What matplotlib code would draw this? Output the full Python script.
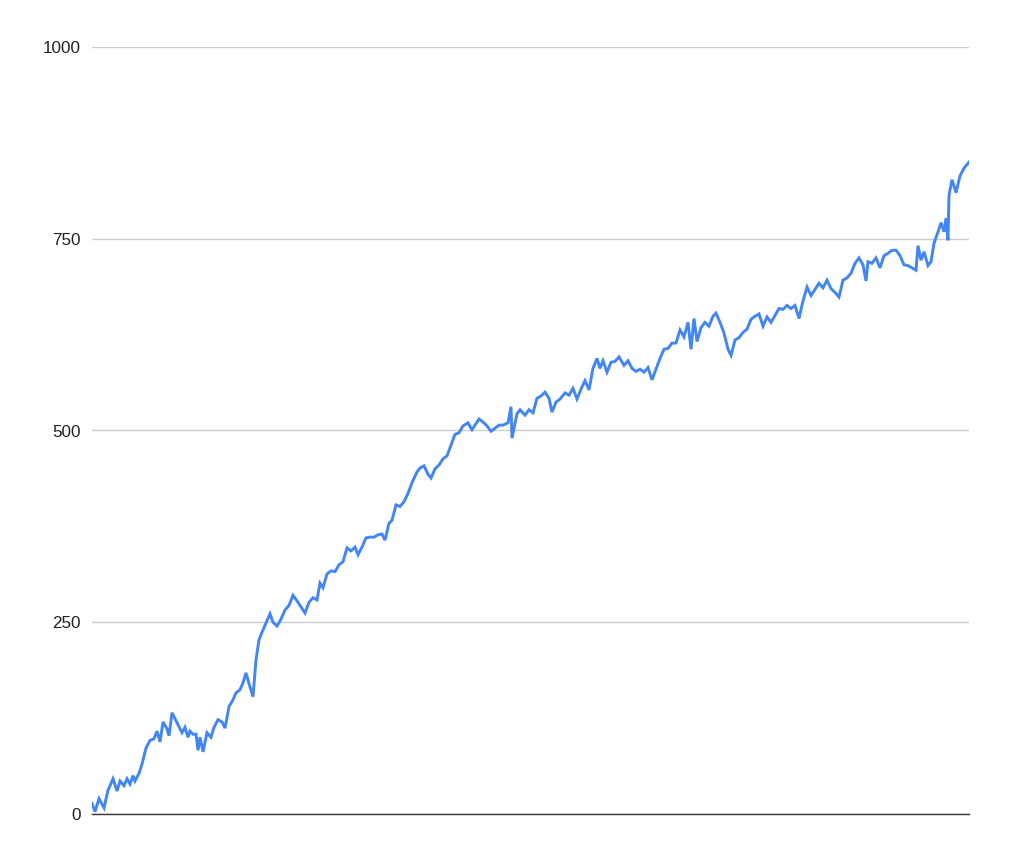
import matplotlib
matplotlib.use("Agg")
import matplotlib.pyplot as plt

# step index (horizontal position in arbitrary units) and series values
steps = [0, 3, 7, 12, 16, 21, 25, 28, 32, 35, 38, 41, 43, 47, 50, 54, 58, 62, 65, 68, 71, 75, 77, 80,
         85, 90, 93, 96, 98, 101, 104, 106, 108, 111, 115, 119, 122, 126, 130, 133, 137, 141, 144, 148,
         151, 154, 157, 161, 164, 167, 170, 174, 178, 181, 185, 189, 193, 197, 201, 205, 209, 213, 217,
         221, 225, 228, 231, 235, 239, 243, 247, 251, 255, 259, 263, 266, 270, 274, 278, 282, 286, 290,
         293, 297, 300, 304, 308, 312, 316, 320, 325, 328, 332, 336, 339, 343, 347, 351, 355, 359, 363,
         367, 371, 376, 380, 384, 387, 391, 395, 399, 403, 407, 411, 416, 419, 420, 425, 428, 433, 437,
         441, 445, 449, 453, 457, 460, 464, 468, 473, 477, 481, 485, 489, 493, 497, 501, 505, 508, 511,
         515, 519, 523, 527, 532, 536, 540, 544, 548, 552, 556, 560, 564, 568, 572, 576, 580, 584, 588,
         592, 596, 599, 602, 605, 609, 613, 617, 621, 624, 628, 632, 636, 639, 643, 647, 651, 655, 659,
         663, 667, 671, 675, 679, 683, 687, 691, 695, 699, 703, 707, 711, 715, 719, 723, 727, 731, 735,
         739, 743, 747, 751, 755, 759, 763, 767, 771, 774, 776, 780, 784, 788, 792, 796, 800, 804, 808,
         812, 816, 820, 824, 826, 829, 832, 836, 839, 842, 846, 849, 852, 854, 856, 857, 860, 864, 868,
         872, 877]
values = [14, 3, 20, 8, 31, 46, 30, 43, 37, 46, 39, 50, 43, 53, 65, 86, 96, 98, 108, 94, 120, 111, 102, 132,
          119, 106, 113, 100, 108, 104, 104, 83, 100, 81, 106, 100, 113, 123, 120, 112, 140, 149, 158, 162,
          171, 184, 170, 153, 201, 227, 237, 249, 261, 250, 245, 254, 266, 272, 285, 278, 270, 262, 276,
          282, 279, 301, 295, 313, 317, 316, 325, 329, 347, 343, 348, 338, 348, 360, 361, 361, 364, 365,
          357, 379, 383, 403, 401, 407, 418, 432, 446, 451, 454, 443, 438, 450, 455, 463, 467, 481, 495,
          497, 506, 510, 501, 509, 515, 511, 506, 499, 503, 507, 507, 510, 531, 490, 522, 527, 520, 527,
          523, 542, 545, 550, 542, 524, 537, 541, 549, 546, 555, 541, 554, 565, 553, 581, 594, 581, 591,
          576, 589, 590, 596, 585, 591, 581, 577, 580, 576, 582, 566, 580, 594, 606, 607, 614, 614, 631,
          622, 641, 606, 646, 616, 634, 641, 636, 649, 653, 641, 627, 606, 598, 618, 621, 628, 632, 645,
          649, 652, 636, 648, 641, 650, 659, 658, 663, 659, 663, 646, 669, 687, 676, 684, 692, 686, 696,
          685, 680, 674, 696, 699, 705, 718, 725, 716, 695, 720, 718, 725, 712, 728, 731, 735, 735, 728,
          716, 715, 712, 709, 741, 722, 733, 715, 720, 744, 759, 771, 759, 777, 748, 807, 827, 810, 832,
          842, 850]

y_ticks = [0, 250, 500, 750, 1000]

fig = plt.figure(figsize=(10.09, 8.55), dpi=100)
ax = fig.add_axes([92 / 1009, 41 / 855, 877 / 1009, 767 / 855])

ax.plot(steps, values, color="#4285F4", linewidth=2.1, solid_joinstyle="miter", zorder=3)

ax.set_xlim(min(steps), max(steps))
ax.set_ylim(0, 1000)
ax.set_yticks(y_ticks)
ax.set_yticklabels([str(v) for v in y_ticks], fontsize=12.3, color="#222222", family="Liberation Sans")
ax.set_xticks([])
ax.tick_params(axis="y", length=0, pad=8)
ax.grid(axis="y", color="#cccccc", linewidth=1.0)
for s in ["top", "right", "left"]:
    ax.spines[s].set_visible(False)
ax.spines["bottom"].set_color("#333333")
ax.spines["bottom"].set_linewidth(1.0)
ax.spines["bottom"].set_zorder(4)

fig.savefig("out.png", dpi=100, facecolor="white")
